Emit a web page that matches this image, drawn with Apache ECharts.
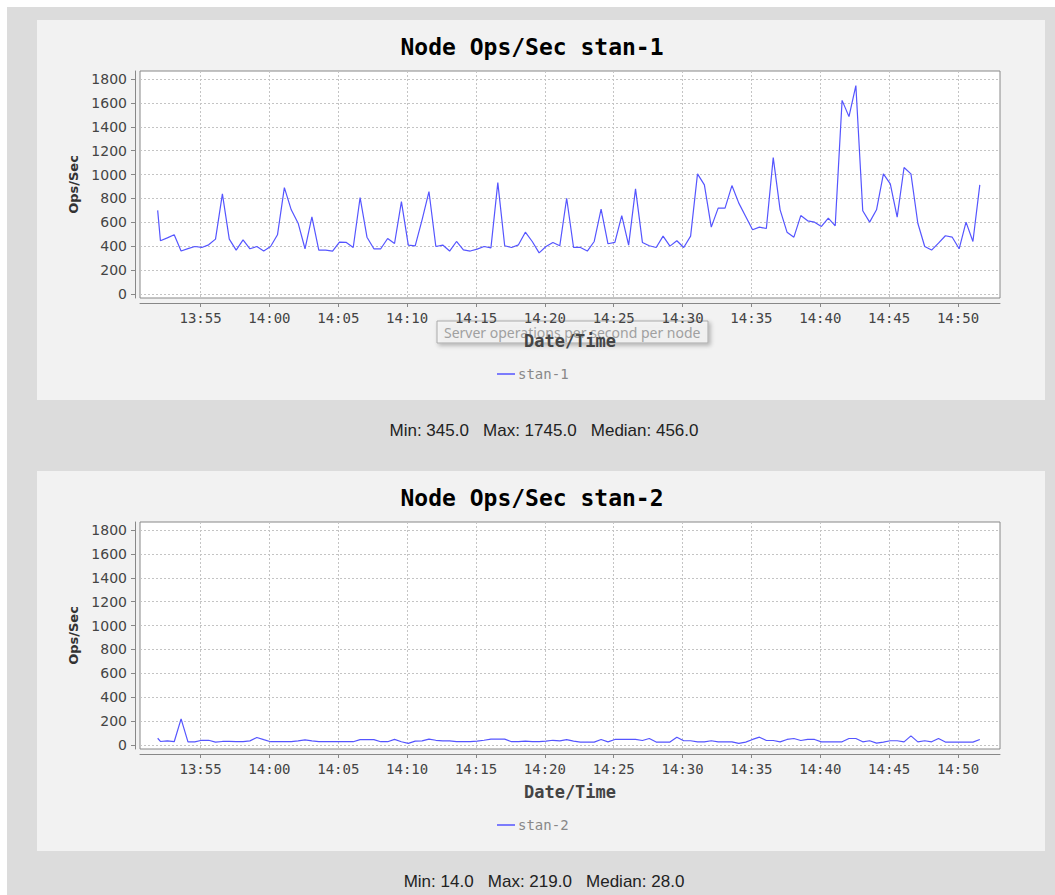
<!DOCTYPE html>
<html>
<head>
<meta charset="utf-8">
<title>Node Ops/Sec</title>
<script src="https://cdn.jsdelivr.net/npm/echarts@6/dist/echarts.min.js"></script>
<style>
  html, body { margin: 0; padding: 0; background: #fff; }
  #wrap { position: relative; width: 1055px; height: 895px; overflow: hidden; }
  .bg { position: absolute; left: 7px; top: 7px; width: 1048px; height: 888px; background: #dcdcdc; }
  .panel { position: absolute; left: 37px; width: 1008px; height: 380px; background: #f2f2f2; }
  #main { position: absolute; left: 0; top: 0; width: 1055px; height: 895px; }
</style>
</head>
<body>
<div id="wrap">
  <div class="bg"></div>
  <div class="panel" style="top:20px"></div>
  <div class="panel" style="top:471px"></div>
  <div id="main"></div>
</div>
<script>
// sample times (one every ~30s)
var times = [
  '13:51:53',
  '13:52:05', '13:52:35', '13:53:05', '13:53:35', '13:54:05', '13:54:35', '13:55:05', '13:55:35', '13:56:05', '13:56:35',
  '13:57:05', '13:57:35', '13:58:05', '13:58:35', '13:59:05', '13:59:35', '14:00:05', '14:00:35', '14:01:05', '14:01:35',
  '14:02:05', '14:02:35', '14:03:05', '14:03:35', '14:04:05', '14:04:35', '14:05:05', '14:05:35', '14:06:05', '14:06:35',
  '14:07:05', '14:07:35', '14:08:05', '14:08:35', '14:09:05', '14:09:35', '14:10:05', '14:10:35', '14:11:05', '14:11:35',
  '14:12:05', '14:12:35', '14:13:05', '14:13:35', '14:14:05', '14:14:35', '14:15:05', '14:15:35', '14:16:05', '14:16:35',
  '14:17:05', '14:17:35', '14:18:05', '14:18:35', '14:19:05', '14:19:35', '14:20:05', '14:20:35', '14:21:05', '14:21:35',
  '14:22:05', '14:22:35', '14:23:05', '14:23:35', '14:24:05', '14:24:35', '14:25:05', '14:25:35', '14:26:05', '14:26:35',
  '14:27:05', '14:27:35', '14:28:05', '14:28:35', '14:29:05', '14:29:35', '14:30:05', '14:30:35', '14:31:05', '14:31:35',
  '14:32:05', '14:32:35', '14:33:05', '14:33:35', '14:34:05', '14:34:35', '14:35:05', '14:35:35', '14:36:05', '14:36:35',
  '14:37:05', '14:37:35', '14:38:05', '14:38:35', '14:39:05', '14:39:35', '14:40:05', '14:40:35', '14:41:05', '14:41:35',
  '14:42:05', '14:42:35', '14:43:05', '14:43:35', '14:44:05', '14:44:35', '14:45:05', '14:45:35', '14:46:05', '14:46:35',
  '14:47:05', '14:47:35', '14:48:05', '14:48:35', '14:49:05', '14:49:35', '14:50:05', '14:50:35', '14:51:05', '14:51:35'
];

var stan1 = [
  700,
  446, 470, 496, 360, 380, 398, 390, 412, 460, 838,
  460, 368, 454, 379, 398, 360, 398, 496, 891, 705,
  593, 379, 646, 368, 368, 360, 435, 432, 390, 808,
  476, 379, 379, 465, 423, 774, 410, 404, 621, 858,
  398, 410, 360, 440, 370, 360, 376, 398, 387, 933,
  404, 390, 412, 518, 440, 345, 398, 432, 404, 802,
  390, 390, 360, 440, 710, 421, 432, 657, 410, 880,
  432, 404, 390, 485, 401, 446, 390, 485, 1006, 914,
  560, 719, 719, 908, 761, 649, 538, 560, 549, 1142,
  705, 518, 476, 657, 613, 602, 566, 635, 571, 1621,
  1485, 1745, 697, 602, 705, 1006, 922, 644, 1059, 1006,
  593, 398, 368, 426, 488, 476, 379, 602, 440, 914
];

var stan2 = [
  57,
  30, 35, 28, 219, 27, 27, 40, 40, 25, 30,
  30, 28, 28, 35, 63, 45, 28, 28, 28, 28,
  35, 43, 35, 28, 28, 28, 28, 28, 28, 45,
  45, 45, 28, 28, 47, 28, 14, 33, 35, 50,
  40, 35, 35, 28, 28, 28, 33, 40, 50, 50,
  50, 28, 28, 33, 28, 28, 33, 40, 35, 45,
  33, 25, 25, 25, 47, 27, 47, 47, 47, 47,
  38, 55, 25, 25, 25, 66, 36, 36, 27, 27,
  36, 27, 27, 27, 14, 25, 47, 66, 38, 38,
  27, 47, 55, 38, 47, 47, 27, 27, 27, 27,
  55, 55, 27, 36, 16, 25, 36, 36, 27, 77,
  27, 36, 27, 55, 25, 25, 25, 25, 25, 47
];

var xTickLabels = ['13:55', '14:00', '14:05', '14:10', '14:15', '14:20', '14:25', '14:30', '14:35', '14:40', '14:45', '14:50'];
var yTicks = [0, 200, 400, 600, 800, 1000, 1200, 1400, 1600, 1800];

var nodes = ['stan-1', 'stan-2'];
var statsText = [
  'Min: 345.0   Max: 1745.0   Median: 456.0',
  'Min: 14.0   Max: 219.0   Median: 28.0'
];

function toMin(s) {
    var p = s.split(':');
    return Number(p[0]) * 60 + Number(p[1]) + (p[2] ? Number(p[2]) / 60 : 0);
}

function fmtMin(v) {
    var h = Math.floor(v / 60 + 1e-6);
    var m = Math.round(v - h * 60);
    return h + ':' + (m < 10 ? '0' : '') + m;
}

var xTickVals = xTickLabels.map(toMin);
var lineColor = '#5555ff';
var panelShift = 451;

var myChart = echarts.init(document.getElementById('main'), null, { renderer: 'svg' });

var grids = [], xAxes = [], yAxes = [], series = [], legends = [], graphics = [];
var allData = [stan1, stan2];

for (var i = 0; i < 2; i++) {
    var dy = i * panelShift;
    grids.push({
        left: 140, top: 71 + dy, width: 860, height: 227,
        show: true, backgroundColor: '#fff', borderColor: '#888', borderWidth: 1
    });
    xAxes.push({
        gridIndex: i, type: 'value', min: 830.6, max: 893.05, offset: 5,
        axisLine: { show: true, onZero: false, lineStyle: { color: '#888', width: 1 } },
        axisTick: { show: true, length: 4, lineStyle: { color: '#888' }, customValues: xTickVals },
        axisLabel: {
            customValues: xTickVals, formatter: fmtMin, color: '#444',
            fontFamily: 'DejaVu Sans Mono', fontSize: 14, margin: 8
        },
        splitLine: { show: true, lineStyle: { color: '#c4c4c4', type: [2, 2] } },
        name: 'Date/Time', nameLocation: 'middle', nameGap: 29,
        nameTextStyle: { color: '#444', fontFamily: 'DejaVu Sans Mono', fontWeight: 'bold', fontSize: 17 }
    });
    yAxes.push({
        gridIndex: i, type: 'value', min: -33, max: 1867, offset: 5,
        axisLine: { show: true, lineStyle: { color: '#888', width: 1 } },
        axisTick: { show: true, length: 4, lineStyle: { color: '#888' }, customValues: yTicks },
        axisLabel: {
            customValues: yTicks, color: '#444',
            formatter: function (v) { return String(v); },
            fontFamily: 'DejaVu Sans', fontSize: 14, margin: 8
        },
        splitLine: { show: true, lineStyle: { color: '#c4c4c4', type: [2, 2] } },
        name: 'Ops/Sec', nameLocation: 'middle', nameGap: 52,
        nameTextStyle: { color: '#333', fontFamily: 'DejaVu Sans', fontWeight: 'bold', fontSize: 13 }
    });
    series.push({
        name: nodes[i], type: 'line', xAxisIndex: i, yAxisIndex: i,
        showSymbol: false, symbol: 'none',
        lineStyle: { color: lineColor, width: 1.2 },
        itemStyle: { color: lineColor },
        data: times.map(function (t, j) { return [toMin(t), allData[i][j]]; })
    });
    legends.push({
        data: [nodes[i]], left: 492, top: 362 + dy,
        icon: 'rect', itemWidth: 18, itemHeight: 1.5, itemGap: 10,
        textStyle: { color: '#888', fontFamily: 'DejaVu Sans Mono', fontSize: 14, padding: [0, 0, 0, -2] }
    });
    graphics.push({
        type: 'text', x: 532, y: 47 + dy, z: 50,
        style: {
            text: 'Node Ops/Sec ' + nodes[i], align: 'center', verticalAlign: 'middle',
            fill: '#000', font: 'bold 23px "DejaVu Sans Mono"'
        }
    });
    graphics.push({
        type: 'text', x: 544, y: 430 + dy, z: 50,
        style: {
            text: statsText[i], align: 'center', verticalAlign: 'middle',
            fill: '#222', font: '17px "Liberation Sans"'
        }
    });
}

// the hover tooltip caught in the screenshot
graphics.push({
    type: 'group', x: 437, y: 321, z: 100,
    children: [
        {
            type: 'rect', shape: { x: 0, y: 0, width: 271, height: 22 },
            style: {
                fill: 'rgba(250,250,250,0.7)', stroke: '#aaa', lineWidth: 1,
                shadowBlur: 4, shadowOffsetX: 2, shadowOffsetY: 2, shadowColor: 'rgba(0,0,0,0.35)'
            }
        },
        {
            type: 'text', x: 7, y: 11,
            style: {
                text: 'Server operations per second per node', verticalAlign: 'middle',
                fill: '#a0a0a0', font: '14px "Noto Sans"'
            }
        }
    ]
});

var option = {
    animation: false,
    backgroundColor: 'transparent',
    grid: grids,
    xAxis: xAxes,
    yAxis: yAxes,
    legend: legends,
    series: series,
    graphic: { elements: graphics }
};

myChart.setOption(option);
</script>
</body>
</html>
